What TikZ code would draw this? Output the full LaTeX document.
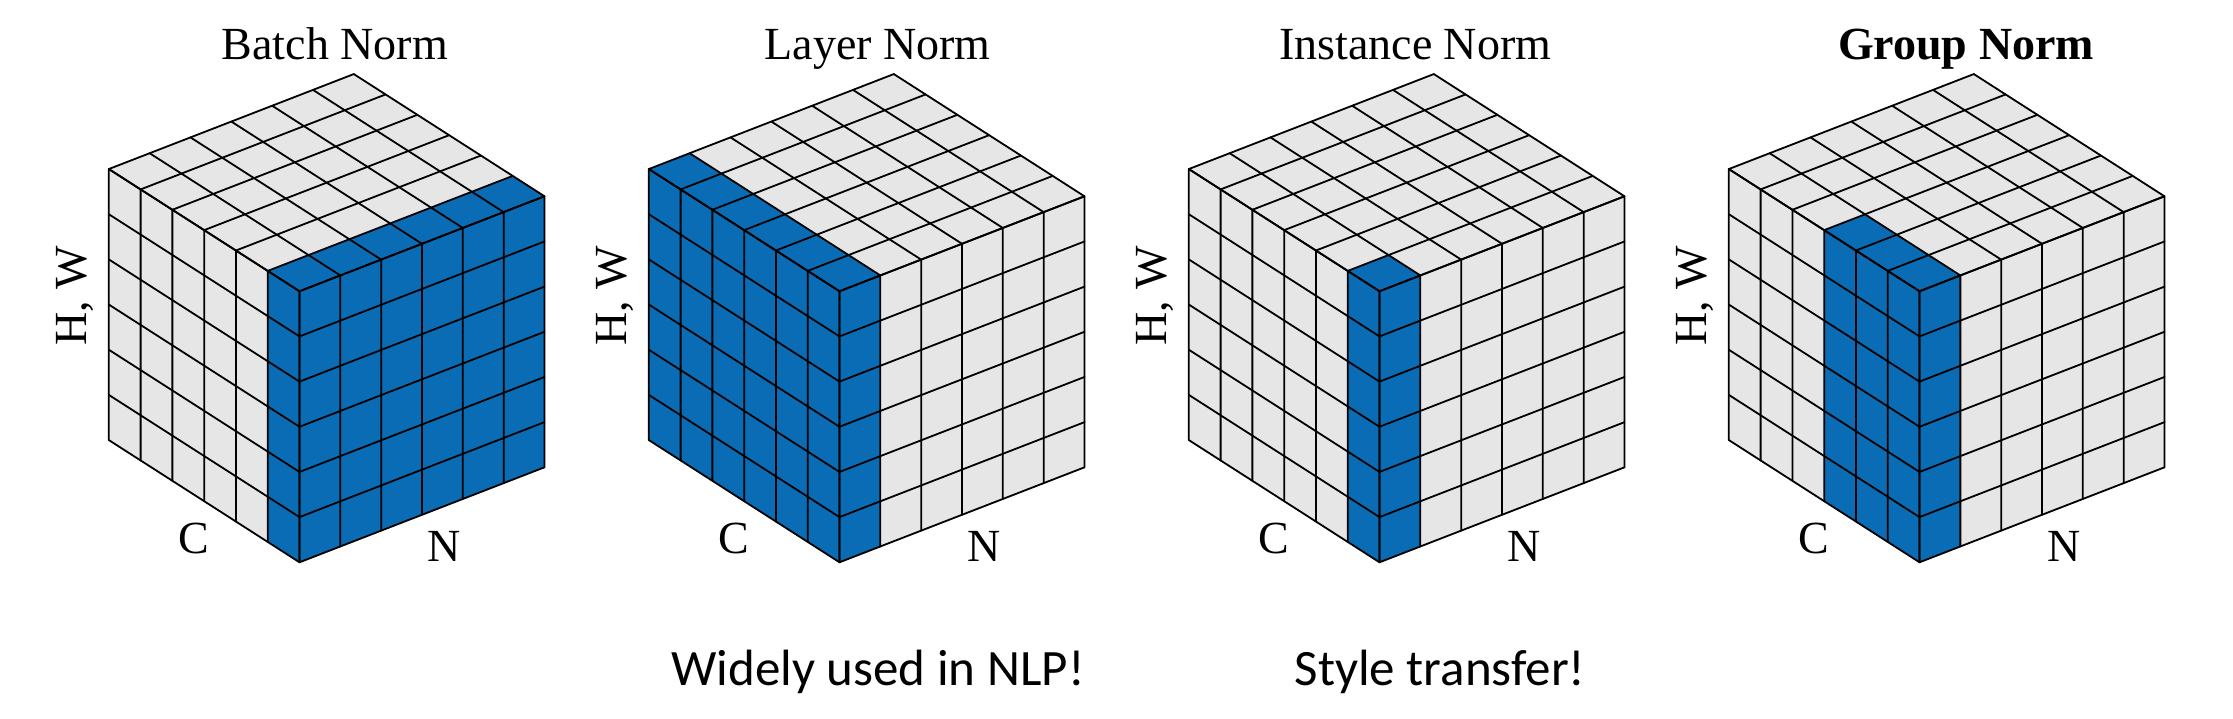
\documentclass[tikz,border=0pt]{standalone}
\usepackage{fontspec}
\setmainfont{Liberation Serif}
\newfontfamily\notefont{Carlito}
\usetikzlibrary{positioning}

\definecolor{normblue}{RGB}{10,108,180}
\definecolor{normgray}{RGB}{230,230,230}

% one 6x6x6 block, #1 name, #2 x of front corner, #3 blue cells along N, #4 blue cells along C
\newcommand{\normcube}[4]{%
  \begin{scope}[shift={(#2,156.7)}, x={(40.83pt,15.83pt)}, y={(0pt,45.17pt)}, z={(-31.78pt,20.37pt)}]
    \fill[normgray] (0,0,0) -- (6,0,0) -- (6,6,0) -- (6,6,6) -- (0,6,6) -- (0,0,6) -- cycle;
    \fill[normblue] (0,0,0) -- (#3,0,0) -- (#3,6,0) -- (#3,6,#4) -- (0,6,#4) -- (0,0,#4) -- cycle;
    \foreach \i in {0,...,6} {
      \draw[cubeline] (\i,0,0) -- (\i,6,0) -- (\i,6,6);
      \draw[cubeline] (0,0,\i) -- (0,6,\i) -- (6,6,\i);
      \draw[cubeline] (0,\i,0) -- (6,\i,0);
      \draw[cubeline] (0,\i,0) -- (0,\i,6);
    }
  \end{scope}
  \node[axislabel, rotate=90] (#1hw) at ({#2-225},423.4) {H, W};
  \node[axislabel, anchor=base] (#1c) at ({#2-106},165) {C};
  \node[axislabel, anchor=base] (#1n) at ({#2+145},157.3) {N};
}

\begin{document}
\begin{tikzpicture}[
  x=1pt, y=1pt,
  cubeline/.style={draw=black, line width=1.8pt, line join=round, line cap=round},
  title/.style={anchor=base, inner sep=0pt, font=\fontsize{46}{52}\selectfont},
  axislabel/.style={inner sep=0pt, font=\fontsize{46}{52}\selectfont},
  note/.style={anchor=base, inner sep=0pt, font=\notefont\fontsize{51}{60}\selectfont}
]
\useasboundingbox (0,0) rectangle (2233,719);

\normcube{batch}{299.5}{6}{1}
\normcube{layer}{839.5}{1}{6}
\normcube{inst}{1379.5}{1}{1}
\normcube{group}{1919.5}{1}{3}

\node[title] (batchtitle) at (334.9,659.7) {Batch Norm};
\node[title] (layertitle) at (877.7,659.7) {Layer Norm};
\node[title] (insttitle) at (1415.2,659.7) {Instance Norm};
\node[title] (grouptitle) at (1966,659.7) {\textbf{Group Norm}};

\node[note] (nlpnote) at (878,33) {Widely used in NLP!};
\node[note] (stylenote) at (1440,33) {Style transfer!};
\end{tikzpicture}
\end{document}
